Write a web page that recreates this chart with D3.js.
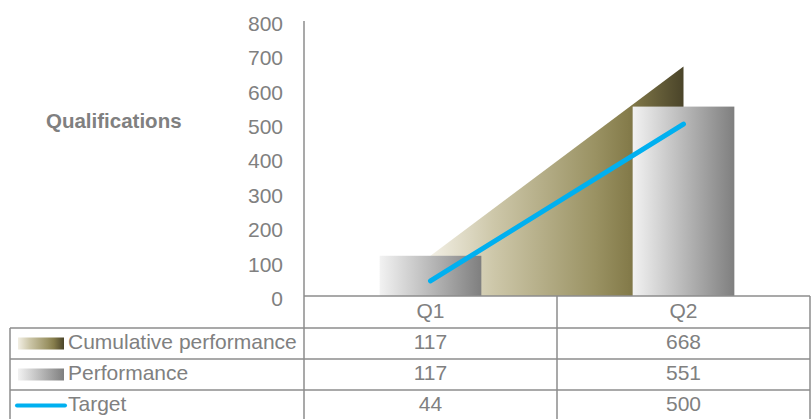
<!DOCTYPE html>
<html>
<head>
<meta charset="utf-8">
<script src="https://cdn.jsdelivr.net/npm/d3@7"></script>
<style>
  body { margin: 0; background: #fff; }
  text { font-family: "Liberation Sans", Arial, sans-serif; }
</style>
</head>
<body>
<div id="my_dataviz"></div>
<script>

var quarters = ['Q1', 'Q2'];
var cumulative = [117, 668];
var performance = [117, 551];
var target = [44, 500];
var yTicks = [0, 100, 200, 300, 400, 500, 600, 700, 800];
var seriesNames = ['Cumulative performance', 'Performance', 'Target'];

var width = 811, height = 419;
var textColor = "#808080";
var gridColor = "#8c8c8c";

var svg = d3.select("#my_dataviz")
  .append("svg")
    .attr("width", width)
    .attr("height", height);

var defs = svg.append("defs");

var olive = defs.append("linearGradient").attr("id", "olive");
[[0, "#f2efe4"], [0.25, "#cdc7a9"], [0.65, "#9a9263"], [0.78, "#857c4b"], [1, "#4a4429"]]
  .forEach(function(s) {
    olive.append("stop").attr("offset", s[0]).attr("stop-color", s[1]);
  });

var grey = defs.append("linearGradient").attr("id", "grey");
grey.append("stop").attr("offset", 0).attr("stop-color", "#f2f2f2");
grey.append("stop").attr("offset", 1).attr("stop-color", "#7f7f7f");

// scales
var x = d3.scaleBand()
  .domain(quarters)
  .range([304, 810])
  .padding(0);

var y = d3.scaleLinear()
  .domain([0, 800])
  .range([296, 21]);

var cx = function(q) { return x(q) + x.bandwidth() / 2; };
var barW = x.bandwidth() * 0.402;

// cumulative area (behind)
var rows = quarters.map(function(q, i) {
  return {q: q, cum: cumulative[i], perf: performance[i], target: target[i]};
});

var area = d3.area()
  .x(function(d) { return cx(d.q); })
  .y0(y(0))
  .y1(function(d) { return y(d.cum); });

svg.append("path")
  .datum(rows)
  .attr("fill", "url(#olive)")
  .attr("d", area);

// performance bars
svg.selectAll(".bar")
  .data(rows)
  .enter().append("rect")
    .attr("class", "bar")
    .attr("x", function(d) { return cx(d.q) - barW / 2; })
    .attr("width", barW)
    .attr("y", function(d) { return y(d.perf); })
    .attr("height", function(d) { return y(0) - y(d.perf); })
    .attr("fill", "url(#grey)");

// target line
var line = d3.line()
  .x(function(d) { return cx(d.q); })
  .y(function(d) { return y(d.target); });

svg.append("path")
  .datum(rows)
  .attr("fill", "none")
  .attr("stroke", "#00b0f0")
  .attr("stroke-width", 5)
  .attr("stroke-linecap", "round")
  .attr("d", line);

// y axis
var yAxis = d3.axisLeft(y)
  .tickValues(yTicks)
  .tickSize(0)
  .tickPadding(21);

var ga = svg.append("g")
  .attr("transform", "translate(304,0)")
  .call(yAxis);
ga.select(".domain").remove();
ga.selectAll("text")
  .attr("fill", textColor)
  .attr("dy", "0.45em")
  .style("font-size", "21px")
  .style("font-family", "'Liberation Sans', Arial, sans-serif");

svg.append("text")
  .text("Qualifications")
  .attr("x", 46)
  .attr("y", 128)
  .attr("fill", textColor)
  .attr("font-weight", "bold")
  .style("font-size", "20.5px");

// data table
var rowTops = [296, 328, 359, 390];

var lines = [
  [304, 21, 304, 421],
  [304, 296, 810, 296],
  [10, 328, 810, 328],
  [10, 359, 810, 359],
  [10, 390, 810, 390],
  [x('Q2'), 296, x('Q2'), 421],
  [810, 296, 810, 421],
  [10, 328, 10, 421]
];
svg.selectAll(".grid")
  .data(lines)
  .enter().append("line")
    .attr("class", "grid")
    .attr("x1", function(d) { return d[0]; })
    .attr("y1", function(d) { return d[1]; })
    .attr("x2", function(d) { return d[2]; })
    .attr("y2", function(d) { return d[3]; })
    .attr("stroke", gridColor)
    .attr("stroke-width", 1.5);

svg.selectAll(".qlabel")
  .data(quarters)
  .enter().append("text")
    .attr("class", "qlabel")
    .text(function(d) { return d; })
    .attr("x", cx)
    .attr("y", rowTops[0] + 21.5)
    .attr("text-anchor", "middle")
    .attr("fill", textColor)
    .style("font-size", "21px");

var tableValues = [cumulative, performance, target];

tableValues.forEach(function(vals, r) {
  var top = rowTops[r + 1];
  svg.append("text")
    .text(seriesNames[r])
    .attr("x", 68)
    .attr("y", top + 21)
    .attr("fill", textColor)
    .style("font-size", "21px");

  quarters.forEach(function(q, i) {
    svg.append("text")
      .text(vals[i])
      .attr("x", cx(q))
      .attr("y", top + 21)
      .attr("text-anchor", "middle")
      .attr("fill", textColor)
      .style("font-size", "21px");
  });
});

// legend keys
svg.append("rect")
  .attr("x", 18).attr("y", rowTops[1] + 9.5)
  .attr("width", 46).attr("height", 12)
  .attr("fill", "url(#olive)");

svg.append("rect")
  .attr("x", 18).attr("y", rowTops[2] + 9.5)
  .attr("width", 46).attr("height", 12)
  .attr("fill", "url(#grey)");

svg.append("line")
  .attr("x1", 17).attr("x2", 65)
  .attr("y1", rowTops[3] + 15.5).attr("y2", rowTops[3] + 15.5)
  .attr("stroke", "#00b0f0")
  .attr("stroke-width", 4)
  .attr("stroke-linecap", "round");

</script>
</body>
</html>
